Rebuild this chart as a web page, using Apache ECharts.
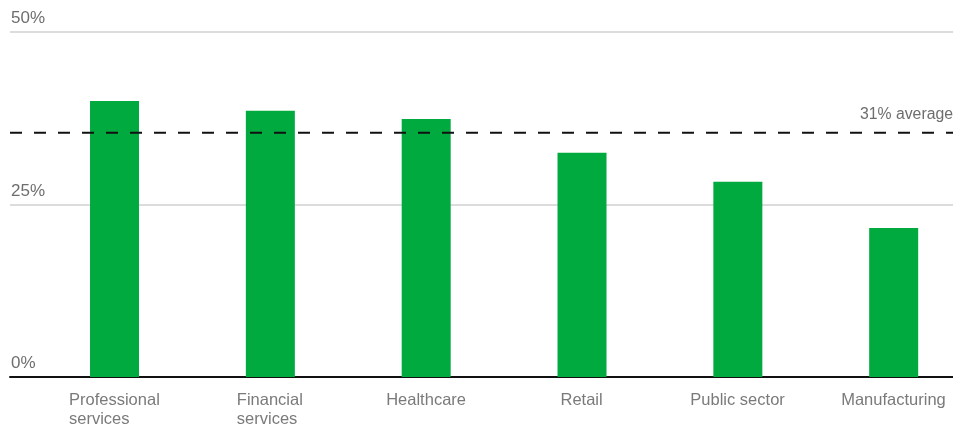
<!DOCTYPE html>
<html>
<head>
<meta charset="utf-8">
<script src="https://cdn.jsdelivr.net/npm/echarts@6/dist/echarts.min.js"></script>
<style>html,body{margin:0;padding:0;background:#fff}#c{width:953px;height:425px}</style>
</head>
<body>
<div id="c"></div>
<script>
var categories = ['Professional\nservices', 'Financial\nservices', 'Healthcare', 'Retail', 'Public sector', 'Manufacturing'];
var values = [40.0, 38.6, 37.4, 32.5, 28.3, 21.6];
var averageValue = 35.4;
var averageLabel = '31% average';
var yTicks = [0, 25, 50];

var FONT = '"Liberation Sans", Arial, Helvetica, sans-serif';
var CAT_SIZE = 16.5;
var cv = document.createElement('canvas').getContext('2d');
cv.font = CAT_SIZE + 'px ' + FONT;
var rich = {};
categories.forEach(function (c, i) {
  var w = 0;
  c.split('\n').forEach(function (l) { w = Math.max(w, cv.measureText(l).width); });
  rich['r' + i] = { width: Math.ceil(w), align: 'left', fontSize: CAT_SIZE, lineHeight: 19, color: '#7a7a7a', fontFamily: FONT };
});

var chart = echarts.init(document.getElementById('c'), null, { renderer: 'canvas' });
chart.setOption({
  animation: false,
  textStyle: { fontFamily: FONT },
  grid: [
    { left: 36.6, width: 935, top: 32, bottom: 48, outerBoundsMode: 'none', containLabel: false },
    { left: 10, right: 0, top: 32, bottom: 48, outerBoundsMode: 'none', containLabel: false }
  ],
  xAxis: [
    {
      type: 'category', gridIndex: 0, data: categories,
      axisLine: { show: false }, axisTick: { show: false },
      axisLabel: {
        margin: 14, interval: 0, hideOverlap: false,
        formatter: function (v, i) {
          return v.split('\n').map(function (l) { return '{r' + i + '|' + l + '}'; }).join('\n');
        },
        rich: rich
      }
    },
    {
      type: 'value', gridIndex: 1, min: 0, max: 1,
      axisLine: { show: true, lineStyle: { color: '#111', width: 2 } },
      axisTick: { show: false }, axisLabel: { show: false }, splitLine: { show: false }
    }
  ],
  yAxis: [
    { type: 'value', gridIndex: 0, min: 0, max: 50, show: false },
    {
      type: 'value', gridIndex: 1, min: 0, max: 50, interval: 25,
      axisLine: { show: false }, axisTick: { show: false },
      splitLine: { show: true, lineStyle: { color: '#dcdcdc', width: 2 } },
      axisLabel: {
        inside: true, margin: 1, verticalAlign: 'bottom', padding: [0, 0, 5, 0],
        color: '#6e6e6e', fontSize: 17, fontFamily: FONT,
        formatter: function (v) { return yTicks.indexOf(v) >= 0 ? v + '%' : ''; }
      }
    }
  ],
  series: [
    {
      type: 'bar', xAxisIndex: 0, yAxisIndex: 0, data: values,
      barWidth: 49, itemStyle: { color: '#00aa3f' }, z: 2
    },
    {
      type: 'line', xAxisIndex: 1, yAxisIndex: 1, z: 5,
      data: [[0, averageValue], { value: [1, averageValue], label: { show: true } }],
      symbol: 'circle', symbolSize: 0.1, showSymbol: true,
      lineStyle: { color: '#111', width: 2, type: [12, 12] },
      itemStyle: { color: 'rgba(0,0,0,0)' },
      label: {
        show: false, position: 'top', align: 'right', distance: 10,
        formatter: averageLabel, color: '#6e6e6e', fontSize: 15.8, fontFamily: FONT
      }
    }
  ]
});
</script>
</body>
</html>
